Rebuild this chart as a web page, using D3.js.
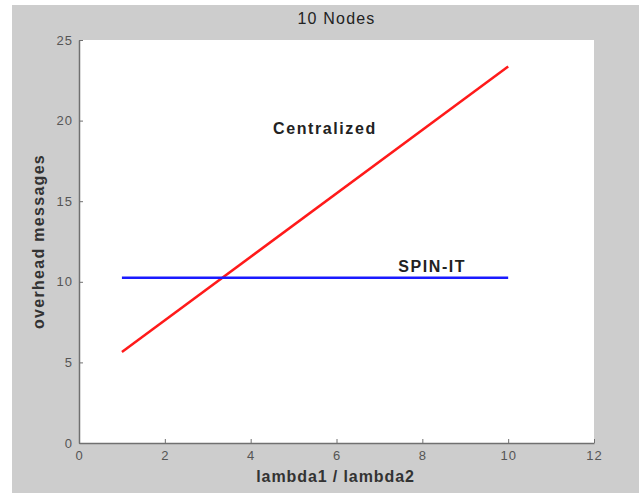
<!DOCTYPE html>
<html><head><meta charset="utf-8">
<script src="https://cdn.jsdelivr.net/npm/d3@7"></script>
<style>body{margin:0;background:#fff;}svg{display:block;font-family:"Liberation Sans",Arial,sans-serif;}</style>
</head><body>
<svg id="c" width="639" height="493"></svg>
<script>
const xTicks = [0, 2, 4, 6, 8, 10, 12];
const yTicks = [0, 5, 10, 15, 20, 25];
const centralizedX = [1, 10];
const centralizedY = [5.65, 23.35];
const spinX = [1, 10];
const spinY = [10.25, 10.25];
const seriesNames = ["Centralized", "SPIN-IT"];
const labelPos = [[5.73, 19.15], [8.23, 10.6]];

const svg = d3.select("#c");
svg.append("rect").attr("x", 12).attr("y", 5).attr("width", 627).attr("height", 488).attr("fill", "#cdcdcd");

const m = {l: 79, r: 594, t: 40, b: 443};
const x = d3.scaleLinear().domain([0, 12]).range([m.l, m.r]);
const y = d3.scaleLinear().domain([0, 25]).range([m.b, m.t]);

svg.append("rect").attr("x", m.l).attr("y", m.t).attr("width", m.r - m.l).attr("height", m.b - m.t).attr("fill", "#fff");

const xAxis = svg.append("g").attr("transform", `translate(0,${m.b})`)
  .call(d3.axisBottom(x).tickValues(xTicks).tickSizeInner(-4).tickSizeOuter(0).tickPadding(8));
const yAxis = svg.append("g").attr("transform", `translate(${m.l},0)`)
  .call(d3.axisLeft(y).tickValues(yTicks).tickSizeInner(-4).tickSizeOuter(0).tickPadding(6));
[xAxis, yAxis].forEach(a => {
  a.select(".domain").attr("stroke", "#707070").attr("stroke-width", 1.5);
  a.selectAll(".tick line").attr("stroke", "#707070");
  a.selectAll("text").attr("fill", "#555").attr("font-size", 13).attr("letter-spacing", 1)
    .attr("font-family", "Liberation Sans, Arial, sans-serif");
});

const line = d3.line().x(d => x(d[0])).y(d => y(d[1]));
svg.append("path").datum(centralizedX.map((v, i) => [v, centralizedY[i]]))
  .attr("d", line).attr("fill", "none").attr("stroke", "#ff1a1a").attr("stroke-width", 2.5);
svg.append("path").datum(spinX.map((v, i) => [v, spinY[i]]))
  .attr("d", line).attr("fill", "none").attr("stroke", "#1a1aff").attr("stroke-width", 2.5);

seriesNames.forEach((n, i) => {
  svg.append("text").attr("x", x(labelPos[i][0])).attr("y", y(labelPos[i][1]))
    .attr("text-anchor", "middle").attr("font-size", 16).attr("letter-spacing", 1.6)
    .attr("font-weight", "bold").attr("fill", "#222").text(n);
});

svg.append("text").attr("x", (m.l + m.r) / 2).attr("y", 24).attr("text-anchor", "middle")
  .attr("font-size", 16).attr("letter-spacing", 1.2).attr("fill", "#222").text("10 Nodes");
svg.append("text").attr("x", (m.l + m.r) / 2 - 1).attr("y", 482).attr("text-anchor", "middle")
  .attr("font-size", 16).attr("letter-spacing", 0.9).attr("font-weight", "bold").attr("fill", "#333").text("lambda1 / lambda2");
svg.append("text").attr("transform", `translate(44,${(m.t + m.b) / 2}) rotate(-90)`).attr("text-anchor", "middle")
  .attr("font-size", 16).attr("letter-spacing", 1.3).attr("font-weight", "bold").attr("fill", "#333").text("overhead messages");
</script>
</body></html>
